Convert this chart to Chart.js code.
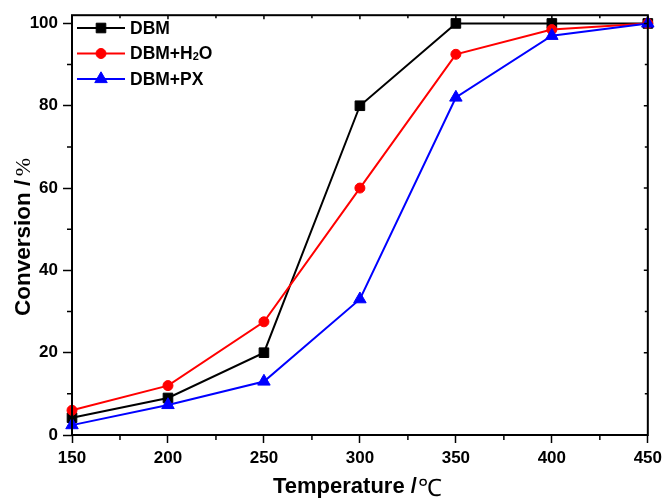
<!DOCTYPE html>
<html>
<head>
<meta charset="utf-8">
<script src="https://cdn.jsdelivr.net/npm/chart.js@4.4.1/dist/chart.umd.min.js"></script>
<style>
  html, body { margin: 0; padding: 0; background: #fff; }
  #wrap { width: 667px; height: 498px; }
</style>
</head>
<body>
<div id="wrap"><canvas id="chart" width="667" height="498"></canvas></div>
<script>
const temperatures = [150, 200, 250, 300, 350, 400, 450];
const dbm = [4.2, 9, 20, 80, 100, 100, 100];
const dbmWater = [6, 12, 27.5, 60, 92.5, 98.5, 100];
const dbmPx = [2.4, 7.3, 13, 33, 82, 97, 100];
const xTicks = [150, 200, 250, 300, 350, 400, 450];
const yTicks = [0, 20, 40, 60, 80, 100];

const sans = "'Liberation Sans', Arial, sans-serif";
const serif = "'Liberation Serif', 'Times New Roman', serif";

function series(values) {
  return values.map((v, i) => ({ x: temperatures[i], y: v }));
}

// frame, minor ticks, axis titles and legend drawn on top
const decorations = {
  id: "decorations",
  afterDraw(chart) {
    const ctx = chart.ctx;
    const { left, right, top, bottom } = chart.chartArea;
    const xs = chart.scales.x;
    const ys = chart.scales.y;
    ctx.save();
    ctx.strokeStyle = "#000";
    ctx.lineWidth = 2;
    ctx.strokeRect(left, top, right - left, bottom - top);

    ctx.lineWidth = 1.5;
    ctx.beginPath();
    for (let v = 150; v <= 450; v += 25) {
      const px = xs.getPixelForValue(v);
      const major = v % 50 === 0;
      if (!major) {
        ctx.moveTo(px, bottom);
        ctx.lineTo(px, bottom + 5);
      }
      ctx.moveTo(px, top);
      ctx.lineTo(px, top + (major ? 4 : 3));
    }
    for (let v = 0; v <= 100; v += 10) {
      const py = ys.getPixelForValue(v);
      const major = v % 20 === 0;
      if (!major) {
        ctx.moveTo(left, py);
        ctx.lineTo(left - 5, py);
      }
      ctx.moveTo(right, py);
      ctx.lineTo(right - (major ? 4 : 3), py);
    }
    ctx.stroke();

    // x title
    ctx.fillStyle = "#000";
    ctx.textBaseline = "alphabetic";
    ctx.textAlign = "left";
    const part1 = "Temperature /";
    ctx.font = "bold 22px " + sans;
    const w1 = ctx.measureText(part1).width;
    ctx.fillText(part1, 273, 493);
    ctx.font = "24px " + serif;
    ctx.fillText("\u2103", 273 + w1 + 1, 496);

    // y title
    ctx.save();
    ctx.translate(30, 316);
    ctx.rotate(-Math.PI / 2);
    const y1 = "Conversion /";
    ctx.font = "bold 22.5px " + sans;
    const yw1 = ctx.measureText(y1).width;
    ctx.fillText(y1, 0, 0);
    ctx.font = "22px " + serif;
    ctx.fillText(" %", yw1 - 2, 0);
    ctx.restore();

    // legend
    [0, 1, 2].forEach((i) => {
      const ds = chart.data.datasets[i];
      const ly = 28 + i * 25.5;
      ctx.strokeStyle = ds.borderColor;
      ctx.fillStyle = ds.backgroundColor;
      ctx.lineWidth = 2;
      ctx.beginPath();
      ctx.moveTo(77, ly);
      ctx.lineTo(125, ly);
      ctx.stroke();
      ctx.lineWidth = 1;
      Chart.helpers.drawPoint(ctx, {
        pointStyle: ds.pointStyle,
        radius: ds.pointRadius,
        borderWidth: 1,
      }, 101, ly);
      ctx.fillStyle = "#000";
      ctx.textBaseline = "middle";
      ctx.textAlign = "left";
      ctx.font = "bold 17.5px " + sans;
      if (i === 1) {
        ctx.fillText("DBM+H", 130, ly + 1);
        const w = ctx.measureText("DBM+H").width;
        ctx.font = "bold 11px " + sans;
        ctx.fillText("2", 130 + w, ly + 3);
        const w3 = ctx.measureText("2").width;
        ctx.font = "bold 17.5px " + sans;
        ctx.fillText("O", 130 + w + w3, ly + 1);
      } else {
        ctx.fillText(ds.label, 130, ly + 1);
      }
    });
    ctx.restore();
  },
};

new Chart(document.getElementById("chart"), {
  type: "line",
  data: {
    datasets: [
      {
        label: "DBM",
        data: series(dbm),
        borderColor: "#000000",
        backgroundColor: "#000000",
        pointStyle: "rect",
        pointRadius: 6.8,
        order: 2,
      },
      {
        label: "DBM+H2O",
        data: series(dbmWater),
        borderColor: "#ff0000",
        backgroundColor: "#ff0000",
        pointStyle: "circle",
        pointRadius: 5,
        order: 1,
      },
      {
        label: "DBM+PX",
        data: series(dbmPx),
        borderColor: "#0000ff",
        backgroundColor: "#0000ff",
        pointStyle: "triangle",
        pointRadius: 7.2,
        order: 0,
      },
    ].map((d) => ({
      ...d,
      borderWidth: 2,
      pointBorderWidth: 1,
      pointHoverRadius: d.pointRadius,
      tension: 0,
      clip: false,
    })),
  },
  plugins: [decorations],
  options: {
    responsive: false,
    animation: false,
    events: [],
    layout: { padding: { top: 14, right: 18, left: 0, bottom: 0 } },
    plugins: { legend: { display: false }, tooltip: { enabled: false } },
    scales: {
      x: {
        type: "linear",
        min: 150,
        max: 450,
        afterFit: (scale) => { scale.height = 63; },
        afterBuildTicks: (scale) => {
          scale.ticks = xTicks.map((v) => ({ value: v }));
        },
        border: { display: false },
        grid: {
          drawOnChartArea: false,
          tickLength: 8,
          tickWidth: 1.5,
          tickColor: "#000",
        },
        ticks: {
          color: "#000",
          padding: 5,
          maxRotation: 0,
          font: { family: sans, size: 17, weight: "bold" },
        },
      },
      y: {
        type: "linear",
        min: 0,
        max: 102,
        afterFit: (scale) => { scale.width = 72; },
        afterBuildTicks: (scale) => {
          scale.ticks = yTicks.map((v) => ({ value: v }));
        },
        border: { display: false },
        grid: {
          drawOnChartArea: false,
          tickLength: 9,
          tickWidth: 1.5,
          tickColor: "#000",
        },
        ticks: {
          color: "#000",
          padding: 5,
          font: { family: sans, size: 17, weight: "bold" },
        },
      },
    },
  },
});
</script>
</body>
</html>
